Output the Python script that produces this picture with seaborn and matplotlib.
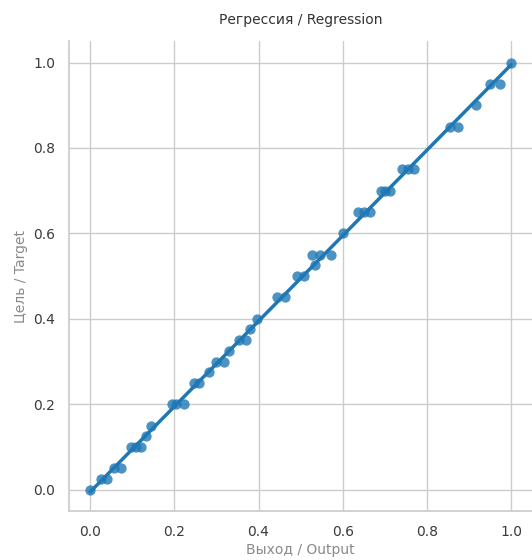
import numpy as np
import pandas as pd
import seaborn as sns
import matplotlib
matplotlib.use("Agg")
import matplotlib.pyplot as plt

# Points (network output vs target)
x_output = [0.00, 0.026, 0.040, 0.057, 0.073, 0.097, 0.110, 0.121, 0.133, 0.145,
            0.194, 0.205, 0.223, 0.246, 0.258, 0.282, 0.300, 0.318, 0.330,
            0.353, 0.370, 0.379, 0.396, 0.443, 0.462, 0.492, 0.508, 0.535,
            0.526, 0.545, 0.573, 0.600, 0.637, 0.650, 0.666, 0.690, 0.700,
            0.712, 0.740, 0.755, 0.770, 0.855, 0.874, 0.917, 0.950, 0.974, 1.000]
y_target = [0.00, 0.025, 0.025, 0.050, 0.050, 0.100, 0.100, 0.100, 0.125, 0.150,
            0.200, 0.200, 0.200, 0.250, 0.250, 0.275, 0.300, 0.300, 0.325,
            0.350, 0.350, 0.375, 0.400, 0.450, 0.450, 0.500, 0.500, 0.525,
            0.550, 0.550, 0.550, 0.600, 0.650, 0.650, 0.650, 0.700, 0.700,
            0.700, 0.750, 0.750, 0.750, 0.850, 0.850, 0.900, 0.950, 0.950, 1.000]

df = pd.DataFrame({"output": x_output, "target": y_target})

sns.set_theme(style="whitegrid")
plt.rcParams['font.family'] = ['DejaVu Sans']

fig = plt.figure(figsize=(5.32, 5.6), dpi=100)
ax = fig.add_axes([0.13, 0.0875, 0.87, 0.839])

sns.regplot(data=df, x="output", y="target", ax=ax, color="#1f77b4",
            ci=None, line_kws={"linewidth": 2.5},
            scatter_kws={"s": 55, "alpha": 0.8, "linewidths": 0})

ax.set_xlim(-0.05, 1.05)
ax.set_ylim(-0.05, 1.05)
ax.set_xticks([0.0, 0.2, 0.4, 0.6, 0.8, 1.0])
ax.set_yticks([0.0, 0.2, 0.4, 0.6, 0.8, 1.0])
ax.tick_params(labelsize=10, colors="#3a3a3a", pad=4)
ax.set_xlabel("Выход / Output", fontsize=10, color="#8a8a8a", labelpad=3)
ax.set_ylabel("Цель / Target", fontsize=10, color="#8a8a8a", labelpad=4)
ax.set_title("Регрессия / Regression", fontsize=10, color="#333333", pad=12)
sns.despine(ax=ax)

fig.savefig("out.png", dpi=100)
